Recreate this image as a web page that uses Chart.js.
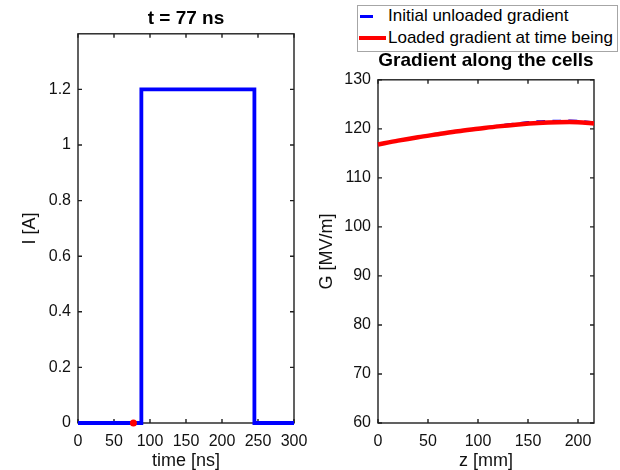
<!DOCTYPE html>
<html>
<head>
<meta charset="utf-8">
<title>Beam loading</title>
<script src="https://cdn.jsdelivr.net/npm/chart.js@4.4.0/dist/chart.umd.min.js"></script>
<style>
  html, body { margin: 0; padding: 0; background: #fff; }
  #page { position: relative; width: 620px; height: 470px; font-family: "Liberation Sans", Arial, sans-serif; }
  .panel { position: absolute; top: 0; width: 310px; height: 470px; }
  #leftPanel  { left: 0; }
  #rightPanel { left: 310px; }
  #legend {
    position: absolute; left: 357px; top: 5px; width: 259px; height: 45px;
    border: 1px solid #a6a6a6; background: #fff; font-size: 17px; color: #000;
  }
  .leg-row { position: absolute; left: 0; width: 100%; height: 22px; line-height: 22px; white-space: nowrap; }
  .leg-row .txt { position: absolute; left: 30px; top: 0; }
  .leg-line { position: absolute; top: 50%; }
</style>
</head>
<body>
<div id="page">
  <div class="panel" id="leftPanel"><canvas id="pulseChart" width="310" height="470"></canvas></div>
  <div class="panel" id="rightPanel"><canvas id="gradChart" width="310" height="470"></canvas></div>

  <div id="legend">
    <div class="leg-row" style="top:-1px">
      <span class="leg-line" style="left:2px;width:13px;height:3px;margin-top:-1.5px;background:#0000ff"></span>
      <span class="txt">Initial unloaded gradient</span>
    </div>
    <div class="leg-row" style="top:21px">
      <span class="leg-line" style="left:1px;width:27px;height:4px;margin-top:-2px;background:#ff0000"></span>
      <span class="txt">Loaded gradient at time being</span>
    </div>
  </div>
</div>

<script>
/* ---------- data ---------- */
// left: beam current pulse
const pulseTime    = [0, 88, 88, 245, 245, 300];   // ns
const pulseCurrent = [0, 0, 1.2, 1.2, 0, 0];       // A
const markerTime    = [77];
const markerCurrent = [0];
const timeTicks    = [0, 50, 100, 150, 200, 250, 300];
const currentTicks = [0, 0.2, 0.4, 0.6, 0.8, 1, 1.2];

// right: gradient along the cells
const cellZ        = [0, 20, 40, 60, 80, 100, 120, 140, 160, 180, 200, 216];   // mm
const gradUnloaded = [116.8, 117.6, 118.3, 118.9, 119.5, 120.0, 120.6, 121.1, 121.5, 121.6, 121.6, 121.3];
const gradLoaded   = [116.8, 117.6, 118.3, 118.9, 119.5, 120.0, 120.5, 120.9, 121.2, 121.35, 121.35, 121.1];
const zTicks       = [0, 50, 100, 150, 200];
const gradTicks    = [60, 70, 80, 90, 100, 110, 120, 130];

/* ---------- shared look ---------- */
Chart.defaults.font.family = '"Liberation Sans", Arial, sans-serif';
Chart.defaults.color = '#111';

const TICK_FONT  = { size: 16, lineHeight: 1.2 };
const LABEL_FONT = { size: 18, lineHeight: 1.0 };
const TITLE_FONT = { size: 19, weight: 'bold', lineHeight: 1.2 };

// MATLAB style box with inward ticks on all four sides
const boxAxes = {
  id: 'boxAxes',
  beforeDatasetsDraw(chart) {
    const { ctx, chartArea: a, scales } = chart;
    const len = 4;
    ctx.save();
    ctx.strokeStyle = '#1f1f1f';
    ctx.lineWidth = 1.4;
    ctx.strokeRect(a.left, a.top, a.right - a.left, a.bottom - a.top);
    ctx.beginPath();
    scales.x.ticks.forEach(t => {
      const px = scales.x.getPixelForValue(t.value);
      ctx.moveTo(px, a.bottom); ctx.lineTo(px, a.bottom - len);
      ctx.moveTo(px, a.top);    ctx.lineTo(px, a.top + len);
    });
    scales.y.ticks.forEach(t => {
      const py = scales.y.getPixelForValue(t.value);
      ctx.moveTo(a.left, py);  ctx.lineTo(a.left + len, py);
      ctx.moveTo(a.right, py); ctx.lineTo(a.right - len, py);
    });
    ctx.stroke();
    ctx.restore();
  }
};

const fmt = v => String(Math.round(v * 10) / 10);

function makeScale(min, max, tickValues, label, size, titlePad) {
  const horizontal = size.height !== undefined;
  return {
    type: 'linear',
    min: min,
    max: max,
    grid:   { display: false, drawTicks: false },
    border: { display: false },
    afterBuildTicks: s => { s.ticks = tickValues.map(v => ({ value: v })); },
    afterFit: s => {
      if (horizontal) s.height = size.height; else s.width = size.width;
      s.paddingLeft = s.paddingRight = s.paddingTop = s.paddingBottom = 0;
    },
    ticks: {
      autoSkip: false,
      maxRotation: 0,
      padding: horizontal ? 9 : 7,
      font: TICK_FONT,
      color: '#111',
      callback: v => fmt(v)
    },
    title: {
      display: true,
      text: label,
      font: LABEL_FONT,
      color: '#111',
      padding: titlePad
    }
  };
}

const xy = (xs, ys) => xs.map((x, i) => ({ x: x, y: ys[i] }));

/* ---------- left: current pulse ---------- */
new Chart(document.getElementById('pulseChart'), {
  type: 'line',
  data: {
    datasets: [
      {
        data: xy(markerTime, markerCurrent),
        showLine: false,
        pointRadius: 3.5,
        pointBackgroundColor: '#ff0000',
        pointBorderColor: '#ff0000',
        pointBorderWidth: 0,
        clip: false,
        order: 1
      },
      {
        data: xy(pulseTime, pulseCurrent),
        borderColor: '#0000ff',
        borderWidth: 3.8,
        pointRadius: 0,
        tension: 0,
        clip: false,
        order: 2
      }
    ]
  },
  options: {
    responsive: false,
    animation: false,
    devicePixelRatio: 1,
    events: [],
    layout: { padding: { top: 0, right: 16, bottom: 0, left: 0 } },
    plugins: {
      legend: { display: false },
      tooltip: { enabled: false },
      title: {
        display: true,
        text: 't = 77 ns',
        fullSize: false,
        font: TITLE_FONT,
        color: '#000',
        padding: { top: 7, bottom: 4 }
      }
    },
    scales: {
      x: makeScale(0, 300, timeTicks, 'time [ns]', { height: 47 }, { top: 0, bottom: 0 }),
      y: makeScale(0, 1.4, currentTicks, 'I [A]', { width: 78 }, { top: 21, bottom: 0 })
    }
  },
  plugins: [boxAxes]
});

/* ---------- right: gradient along the cells ---------- */
new Chart(document.getElementById('gradChart'), {
  type: 'line',
  data: {
    datasets: [
      {
        label: 'Loaded gradient at time being',
        data: xy(cellZ, gradLoaded),
        borderColor: '#ff0000',
        borderWidth: 4.5,
        pointRadius: 0,
        tension: 0.3,
        clip: false,
        order: 1
      },
      {
        label: 'Initial unloaded gradient',
        data: xy(cellZ, gradUnloaded),
        borderColor: '#0000ff',
        borderWidth: 2.5,
        borderDash: [9, 7],
        pointRadius: 0,
        tension: 0.3,
        clip: false,
        order: 2
      }
    ]
  },
  options: {
    responsive: false,
    animation: false,
    devicePixelRatio: 1,
    events: [],
    layout: { padding: { top: 44, right: 26, bottom: 0, left: 0 } },
    plugins: {
      legend: { display: false },
      tooltip: { enabled: false },
      title: {
        display: true,
        text: 'Gradient along the cells',
        fullSize: false,
        font: TITLE_FONT,
        color: '#000',
        padding: { top: 5, bottom: 8 }
      }
    },
    scales: {
      x: makeScale(0, 216, zTicks, 'z [mm]', { height: 47 }, { top: 0, bottom: 0 }),
      y: makeScale(60, 130, gradTicks, 'G [MV/m]', { width: 68 }, { top: 8, bottom: 0 })
    }
  },
  plugins: [boxAxes]
});
</script>
</body>
</html>
